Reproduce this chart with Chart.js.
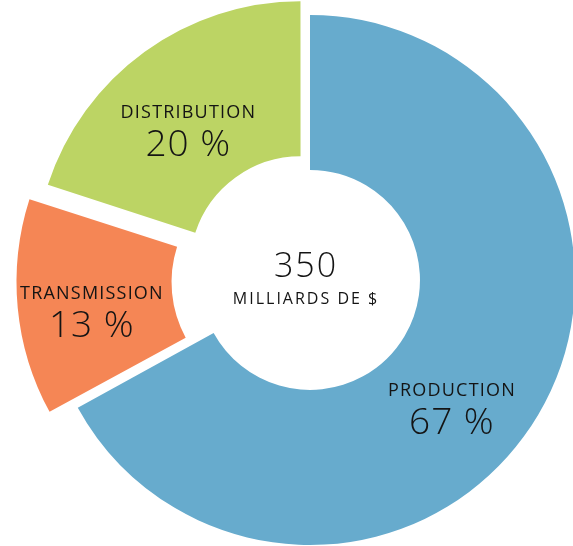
<!DOCTYPE html>
<html>
<head>
<meta charset="utf-8">
<script src="https://cdn.jsdelivr.net/npm/chart.js@4.4.0/dist/chart.umd.min.js"></script>
<style>
    html, body { margin: 0; padding: 0; background: #ffffff; }
    #wrap { position: relative; width: 573px; height: 546px; }
</style>
</head>
<body>
<div id="wrap"><canvas id="coutChart"></canvas></div>
<script>
// Données du graphique
const categories = ['PRODUCTION', 'TRANSMISSION', 'DISTRIBUTION'];
const parts = [67, 13, 20];
const totalMilliards = 350;
const totalLabel = 'MILLIARDS DE $';

// Couleurs des segments
const sliceColors = ['#67abcd', '#f58655', '#bcd464'];
const sliceOffsets = [0, 90, 64];

// Décalage des étiquettes par rapport au milieu du segment
const labelNudge = [[-20, 30], [-32, 10], [-12, -1]];

const fontFamily = '"Open Sans", "Noto Sans", sans-serif';
const textColor = '#141414';

// Texte centré avec espacement des lettres
function drawSpaced(ctx, text, x, y, font, spacing) {
    ctx.font = font;
    ctx.letterSpacing = spacing + 'px';
    ctx.fillText(text, x + spacing / 2, y);
}

// Plugin pour écrire les étiquettes et le total au centre
const labelPlugin = {
    id: 'labelPlugin',
    afterDatasetsDraw(chart) {
        const ctx = chart.ctx;
        const arcs = chart.getDatasetMeta(0).data;
        if (!arcs.length) return;
        const cx = arcs[0].x;
        const cy = arcs[0].y;

        ctx.save();
        ctx.fillStyle = textColor;
        ctx.textAlign = 'center';
        ctx.textBaseline = 'alphabetic';

        // Total au centre
        drawSpaced(ctx, String(totalMilliards), cx - 5, cy - 3, '300 34px ' + fontFamily, 2);
        drawSpaced(ctx, totalLabel, cx - 5, cy + 24, '400 16px ' + fontFamily, 2);

        const total = parts.reduce((a, b) => a + b, 0);
        arcs.forEach((arc, i) => {
            const mid = (arc.startAngle + arc.endAngle) / 2;
            const r = (arc.innerRadius + arc.outerRadius) / 2;
            const x = cx + Math.cos(mid) * r + labelNudge[i][0];
            const y = cy + Math.sin(mid) * r + labelNudge[i][1];
            drawSpaced(ctx, categories[i], x, y - 9, '400 18px ' + fontFamily, 1.2);
            drawSpaced(ctx, Math.round(parts[i] / total * 100) + ' %', x, y + 29, '300 37px ' + fontFamily, 1);
        });
        ctx.restore();
    }
};

const coutChart = new Chart(document.getElementById('coutChart'), {
    type: 'doughnut',
    data: {
        labels: categories,
        datasets: [{
            data: parts,
            backgroundColor: sliceColors,
            borderWidth: 0,
            offset: sliceOffsets,
            hoverOffset: 0,
            radius: 265,
            cutout: '41.5%',
            clip: false
        }]
    },
    options: {
        responsive: true,
        maintainAspectRatio: false,
        animation: false,
        radius: 265,
        cutout: '41.5%',
        layout: {
            padding: { left: 47, top: 14, right: 0, bottom: 0 }
        },
        plugins: {
            legend: { display: false },
            tooltip: { enabled: false }
        }
    },
    plugins: [labelPlugin]
});
</script>
</body>
</html>
